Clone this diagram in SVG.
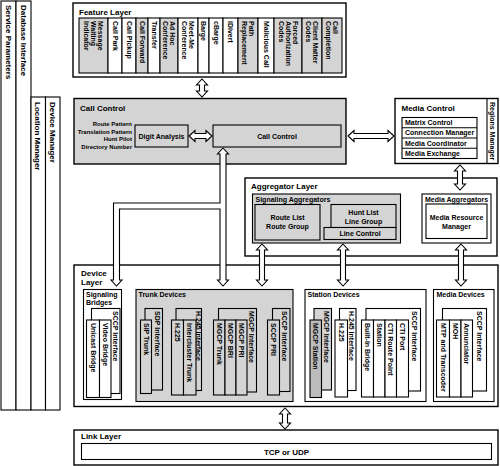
<svg xmlns="http://www.w3.org/2000/svg" width="500" height="466" viewBox="0 0 500 466">
<defs>
<style>
rect{stroke:#000;stroke-width:1.1;fill:#fff}
rect.g{fill:#d4d4d4}
rect.d{fill:#bcbcbc}
rect.o{stroke-width:1.4}
line{stroke:#000;stroke-width:1.1}
text{font-family:"Liberation Sans",Arial,Helvetica,sans-serif;font-weight:bold;fill:#000;font-size:7px}
.t8{font-size:8px}
.t6{font-size:6px}
.m{text-anchor:middle}
.e{text-anchor:end}
.arr{fill:#fff;stroke:#000;stroke-width:1.1;stroke-linejoin:miter}
</style>
</defs>
<rect width="500" height="466" style="fill:#fff;stroke:none"/>

<g id="left-bars">
<rect x="1" y="1" width="15" height="409"/>
<rect x="16" y="1" width="15" height="409"/>
<rect x="31" y="97" width="14.5" height="313"/>
<rect x="45.5" y="97" width="14.5" height="313"/>
<text class="t8" transform="translate(5.7,5) rotate(90)">Service Parameters</text>
<text class="t8" transform="translate(20.6,5) rotate(90)">Database Interface</text>
<text class="t8" transform="translate(35.2,102) rotate(90)">Location Manager</text>
<text class="t8" transform="translate(49.8,102) rotate(90)">Device Manager</text>
</g>

<g id="feature-layer">
<rect class="o" x="73" y="3" width="273" height="74"/>
<text class="t8" x="79" y="14.5">Feature Layer</text>
<rect class="g" x="79" y="18" width="29" height="55"/>
<rect x="108" y="18" width="14" height="55"/>
<rect x="122" y="18" width="14" height="55"/>
<rect class="g" x="136" y="18" width="12" height="55"/>
<rect x="148" y="18" width="12" height="55"/>
<rect class="g" x="160" y="18" width="18" height="55"/>
<rect x="178" y="18" width="20" height="55"/>
<rect x="198" y="18" width="11" height="55"/>
<rect x="209" y="18" width="14" height="55"/>
<rect x="223" y="18" width="15" height="55"/>
<rect class="g" x="238" y="18" width="20" height="55"/>
<rect x="258" y="18" width="16" height="55"/>
<rect class="g" x="274" y="18" width="28" height="55"/>
<rect class="g" x="302" y="18" width="20" height="55"/>
<rect class="g" x="322" y="18" width="20" height="55"/>
<text transform="translate(98,21) rotate(90)">Message</text>
<text transform="translate(91,21) rotate(90)">Waiting</text>
<text transform="translate(84,21) rotate(90)">Indicator</text>
<text transform="translate(112.5,21) rotate(90)">Call Park</text>
<text transform="translate(126.5,21) rotate(90)">Call Pickup</text>
<text transform="translate(139.5,21) rotate(90)">Call Forward</text>
<text transform="translate(151.5,21) rotate(90)">Transfer</text>
<text transform="translate(170,21) rotate(90)">Ad Hoc</text>
<text transform="translate(163,21) rotate(90)">Conference</text>
<text transform="translate(189,21) rotate(90)">Meet-Me</text>
<text transform="translate(182,21) rotate(90)">Conference</text>
<text transform="translate(201,21) rotate(90)">Barge</text>
<text transform="translate(213.5,21) rotate(90)">cBarge</text>
<text transform="translate(228,21) rotate(90)">iDivert</text>
<text transform="translate(249,21) rotate(90)">Path</text>
<text transform="translate(242,21) rotate(90)">Replacement</text>
<text transform="translate(263.5,21) rotate(90)">Malicious Call</text>
<text transform="translate(292.5,21) rotate(90)">Forced</text>
<text transform="translate(285.5,21) rotate(90)">Authorization</text>
<text transform="translate(278.5,21) rotate(90)">Codes</text>
<text transform="translate(313,21) rotate(90)">Client Matter</text>
<text transform="translate(306,21) rotate(90)">Codes</text>
<text transform="translate(333,21) rotate(90)">Call</text>
<text transform="translate(326,21) rotate(90)">Completion</text>
</g>

<g id="call-control">
<rect class="g o" x="74" y="98.5" width="272" height="65.5"/>
<text class="t8" x="80" y="110.5">Call Control</text>
<text class="t6 e" x="132" y="126.2">Route Pattern</text>
<text class="t6 e" x="132" y="133.9">Translation Pattern</text>
<text class="t6 e" x="132" y="141.2">Hunt Pilot</text>
<text class="t6 e" x="132" y="148.9">Directory Number</text>
<rect class="g" x="135" y="125" width="53" height="22"/>
<text class="m" x="161.5" y="138.5">Digit Analysis</text>
<rect class="g" x="213" y="125" width="128" height="22"/>
<text class="m" x="277" y="138.5">Call Control</text>
</g>

<g id="media-control">
<rect class="o" x="395" y="98.5" width="103" height="65"/>
<line x1="487" y1="98.5" x2="487" y2="163.5"/>
<text class="t8" x="401.5" y="110.5">Media Control</text>
<rect x="402" y="117.5" width="75" height="41"/>
<line x1="402" y1="127.75" x2="477" y2="127.75"/>
<line x1="402" y1="138" x2="477" y2="138"/>
<line x1="402" y1="148.25" x2="477" y2="148.25"/>
<text x="405" y="125.1">Matrix Control</text>
<text x="405" y="135.4">Connection Manager</text>
<text x="405" y="145.6">Media Coordinator</text>
<text x="405" y="155.9">Media Exchange</text>
<text transform="translate(490,102) rotate(90)">Regions Manager</text>
</g>

<g id="aggregator-layer">
<rect class="o" x="245" y="178" width="252" height="78"/>
<text class="t8" x="251" y="189">Aggregator Layer</text>
<rect class="g" x="252.5" y="194" width="148" height="49"/>
<text x="255.5" y="201.5">Signaling Aggregators</text>
<rect class="g" x="255" y="204.5" width="65" height="35.5"/>
<text class="m" x="287.5" y="220">Route List</text>
<text class="m" x="287.5" y="229">Route Group</text>
<rect class="g" x="331" y="204.5" width="65" height="23"/>
<text class="m" x="363.5" y="215">Hunt List</text>
<text class="m" x="363.5" y="223.5">Line Group</text>
<rect class="g" x="324" y="227.5" width="72" height="12"/>
<text class="m" x="360" y="236">Line Control</text>
<rect x="422" y="194" width="69" height="49"/>
<text x="425" y="201.5">Media Aggregators</text>
<rect x="426" y="204" width="61" height="34.5"/>
<text class="m" x="456.5" y="220">Media Resource</text>
<text class="m" x="456.5" y="229">Manager</text>
</g>

<g id="device-layer">
<rect class="o" x="74" y="265" width="424" height="141.5"/>
<text class="t8" x="81" y="276">Device</text>
<text class="t8" x="81" y="285">Layer</text>
</g>

<g id="signaling-bridges">
<rect x="83.5" y="289.5" width="38" height="110"/>
<text x="86" y="297">Signaling</text>
<text x="86" y="305">Bridges</text>
<rect x="91.5" y="308.5" width="28.5" height="85"/>
<rect x="86.5" y="320" width="13" height="77.5"/>
<rect x="99.5" y="320" width="11.5" height="77.5"/>
<text transform="translate(113,311) rotate(90)">SCCP Interface</text>
<text transform="translate(90.5,323) rotate(90)">Unicast Bridge</text>
<text transform="translate(102.7,323) rotate(90)">Video Bridge</text>
</g>

<g id="trunk-devices">
<rect class="g" x="136" y="289.5" width="157" height="112"/>
<text x="138.5" y="297">Trunk Devices</text>
<rect class="g" x="145" y="308.5" width="17.5" height="81.5"/>
<rect class="g" x="140.5" y="320" width="11" height="73.5"/>
<text transform="translate(154.7,311) rotate(90)">SDP Interface</text>
<text transform="translate(143.7,323) rotate(90)">SIP Trunk</text>
<rect class="g" x="176" y="308.5" width="25.5" height="82"/>
<rect class="g" x="171.5" y="320" width="12" height="75"/>
<rect class="g" x="183.5" y="320" width="12.5" height="75"/>
<text transform="translate(196.2,311) rotate(90)">H.245 Interface</text>
<text transform="translate(175,323) rotate(90)">H.225</text>
<text transform="translate(187.2,323) rotate(90)">Intercluster Trunk</text>
<rect class="g" x="218.5" y="308.5" width="38" height="83.5"/>
<rect class="g" x="213.5" y="320" width="11.5" height="75"/>
<rect class="g" x="225" y="320" width="11" height="75"/>
<rect class="g" x="236" y="320" width="11" height="75"/>
<text transform="translate(249.2,311) rotate(90)">MGCP Interface</text>
<text transform="translate(216.7,323) rotate(90)">MGCP Trunk</text>
<text transform="translate(228,323) rotate(90)">MGCP BRI</text>
<text transform="translate(239,323) rotate(90)">MGCP PRI</text>
<rect class="g" x="272.5" y="308.5" width="17.5" height="83"/>
<rect class="g" x="267.5" y="320" width="12" height="75"/>
<text transform="translate(282.2,311) rotate(90)">SCCP Interface</text>
<text transform="translate(271,323) rotate(90)">SCCP PRI</text>
</g>

<g id="station-devices">
<rect x="305" y="289.5" width="121" height="112"/>
<text x="307.5" y="297">Station Devices</text>
<rect class="g" x="314" y="308.5" width="17.5" height="81.5"/>
<rect class="d" x="310" y="320" width="11.5" height="77.5"/>
<text transform="translate(324,311) rotate(90)">MGCP Interface</text>
<text transform="translate(313.2,323) rotate(90)">MGCP Station</text>
<rect x="339.5" y="308.5" width="16.5" height="82"/>
<rect x="335" y="320" width="12.5" height="77"/>
<text transform="translate(349.2,311) rotate(90)">H.245 Interface</text>
<text transform="translate(338.7,323) rotate(90)">H.225</text>
<rect x="366" y="308.5" width="54.5" height="82.5"/>
<rect x="361.5" y="320" width="12" height="77"/>
<rect x="373.5" y="320" width="11.5" height="77"/>
<rect x="385" y="320" width="11.5" height="77"/>
<rect x="396.5" y="320" width="12" height="77"/>
<text transform="translate(412,311) rotate(90)">SCCP Interface</text>
<text transform="translate(365,323) rotate(90)">Built-In Bridge</text>
<text transform="translate(376.7,323) rotate(90)">Station</text>
<text transform="translate(388.2,323) rotate(90)">CTI Route Point</text>
<text transform="translate(400,323) rotate(90)">CTI Port</text>
</g>

<g id="media-devices">
<rect x="433.5" y="289.5" width="60.5" height="112"/>
<text x="436.5" y="297">Media Devices</text>
<rect x="442.5" y="308.5" width="44" height="82.5"/>
<rect x="436.5" y="320" width="13" height="77"/>
<rect x="449.5" y="320" width="11.5" height="77"/>
<rect x="461" y="320" width="11.5" height="77"/>
<text transform="translate(477,311) rotate(90)">SCCP Interface</text>
<text transform="translate(440.5,323) rotate(90)">MTP and Transcoder</text>
<text transform="translate(452.7,323) rotate(90)">MOH</text>
<text transform="translate(464.2,323) rotate(90)">Annunciator</text>
</g>

<g id="link-layer">
<rect class="o" x="74" y="430" width="424" height="35"/>
<text class="t8" x="81" y="439">Link Layer</text>
<rect x="81.5" y="443.5" width="410" height="16"/>
<text class="t8 m" x="286.5" y="454.5">TCP or UDP</text>
</g>

<g id="connectors">
<path class="arr" d="M202,79 L207.5,85 L204.5,85 L204.5,91 L207.5,91 L202,97 L196.5,91 L199.5,91 L199.5,85 L196.5,85 Z"/>
<path class="arr" d="M189,136 L195,130.5 L195,133.5 L206,133.5 L206,130.5 L212,136 L206,141.5 L206,138.5 L195,138.5 L195,141.5 Z"/>
<path class="arr" d="M348,136 L354,130.5 L354,133.5 L388,133.5 L388,130.5 L394,136 L388,141.5 L388,138.5 L354,138.5 L354,141.5 Z"/>
<path class="arr" d="M460,165 L465.5,171 L462.5,171 L462.5,184 L465.5,184 L460,190 L454.5,184 L457.5,184 L457.5,171 L454.5,171 Z"/>
<path class="arr" d="M223,148 L228.5,154 L226,154 L226,280 L228.5,280 L223,286 L217.5,280 L220,280 L220,209 L119.5,209 L119.5,280 L122,280 L116.5,286 L111,280 L113.5,280 L113.5,203 L220,203 L220,154 L217.5,154 Z"/>
<path class="arr" d="M262,244 L267.5,250 L264.5,250 L264.5,280 L267.5,280 L262,286 L256.5,280 L259.5,280 L259.5,250 L256.5,250 Z"/>
<path class="arr" d="M343,244 L348.5,250 L345.5,250 L345.5,280 L348.5,280 L343,286 L337.5,280 L340.5,280 L340.5,250 L337.5,250 Z"/>
<path class="arr" d="M461,244 L466.5,250 L463.5,250 L463.5,280 L466.5,280 L461,286 L455.5,280 L458.5,280 L458.5,250 L455.5,250 Z"/>
<path class="arr" d="M285,408 L290.5,414 L287.5,414 L287.5,423 L290.5,423 L285,429 L279.5,423 L282.5,423 L282.5,414 L279.5,414 Z"/>
</g>
</svg>
